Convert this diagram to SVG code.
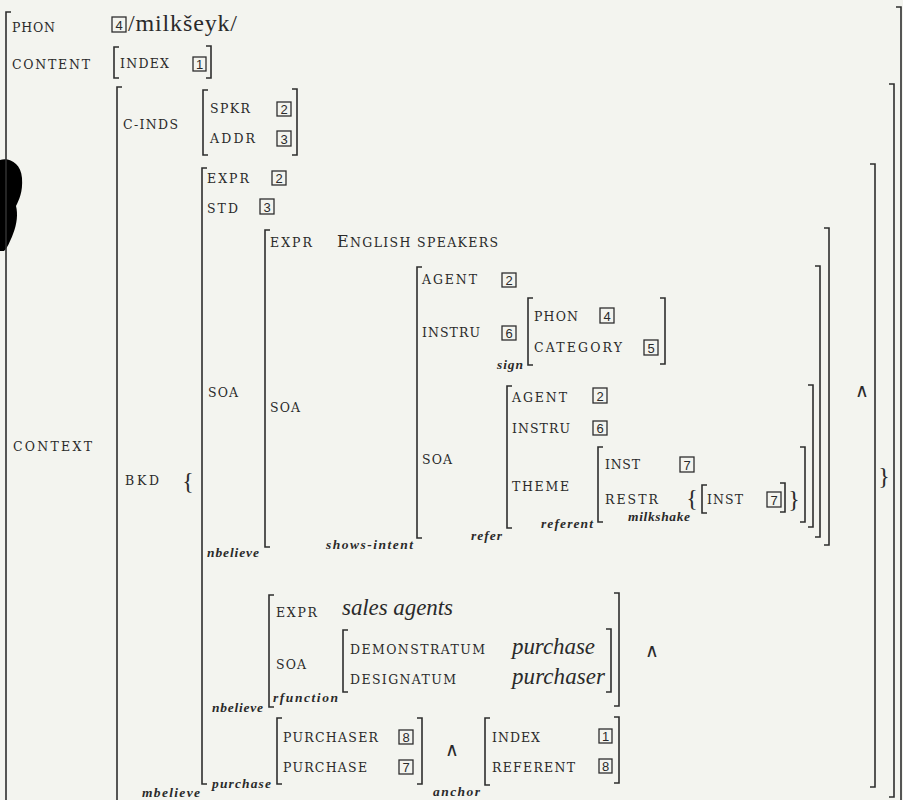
<svg xmlns="http://www.w3.org/2000/svg" width="903" height="800" viewBox="0 0 903 800">
<style>
.bg{fill:#f3f4ef}
.b{fill:none;stroke:#2e2e2e;stroke-width:1.6}
.bx{fill:none;stroke:#2e2e2e;stroke-width:1.3}
text{fill:#2a2a2a}
.l{font-family:"DejaVu Serif","Liberation Serif",serif;font-size:12.5px}
.s{font-family:"Liberation Serif","DejaVu Serif",serif;font-size:13.5px;font-style:italic;font-weight:bold}
.v{font-family:"Liberation Serif","DejaVu Serif",serif;font-size:23px;font-style:italic}
.r{font-family:"Liberation Serif","DejaVu Serif",serif;font-size:24px}
.n{font-family:"Liberation Sans","DejaVu Sans",sans-serif;font-size:13px;text-anchor:middle}
.br{font-family:"Liberation Serif","DejaVu Serif",serif;font-size:24px;text-anchor:middle}
.w{font-family:"DejaVu Sans",sans-serif;font-size:19px;font-weight:200;text-anchor:middle}
</style>
<rect class="bg" x="0" y="0" width="903" height="800"/>
<path d="M0,160 C9,157 21,163 22,178 C23,192 19,200 16,206 C18,214 17,224 13,234 C10,242 7,248 4,251 L0,251 Z" fill="#000"/>

<g id="brackets">
<path class="b" d="M11,12 H6 V805"/>
<path class="b" d="M896,7 H901 V805"/>
<path class="b" d="M119,47 H114 V78 H119"/>
<path class="b" d="M206,46 H211 V78 H206"/>
<path class="b" d="M122,87 H117 V805"/>
<path class="b" d="M889,84 H894 V797 H889"/>
<path class="b" d="M208,90 H203 V155 H208"/>
<path class="b" d="M292,89 H297 V155 H292"/>
<path class="b" d="M207,168 H202 V784 H207"/>
<path class="b" d="M870,164 H875 V787 H870"/>
<path class="b" d="M270,230 H265 V547 H270"/>
<path class="b" d="M824,228 H829 V545 H824"/>
<path class="b" d="M422,267 H417 V538 H422"/>
<path class="b" d="M815,266 H820 V537 H815"/>
<path class="b" d="M533,298 H528 V365 H533"/>
<path class="b" d="M660,298 H665 V364 H660"/>
<path class="b" d="M512,386 H507 V528 H512"/>
<path class="b" d="M808,385 H813 V527 H808"/>
<path class="b" d="M603,447 H598 V522 H603"/>
<path class="b" d="M800,447 H805 V522 H800"/>
<path class="b" d="M707,485 H702 V513 H707"/>
<path class="b" d="M780,483 H785 V512 H780"/>
<path class="b" d="M274,595 H269 V707 H274"/>
<path class="b" d="M614,593 H619 V706 H614"/>
<path class="b" d="M348,630 H343 V692 H348"/>
<path class="b" d="M606,629 H611 V692 H606"/>
<path class="b" d="M282,718 H277 V784 H282"/>
<path class="b" d="M417,718 H422 V784 H417"/>
<path class="b" d="M490,718 H485 V785 H490"/>
<path class="b" d="M614,717 H619 V783 H614"/>
</g>

<g id="labels">
<text class="l" x="12" y="32" textLength="43" lengthAdjust="spacing">PHON</text>
<text class="l" x="12" y="69" textLength="78" lengthAdjust="spacing">CONTENT</text>
<text class="l" x="120" y="68" textLength="49" lengthAdjust="spacing">INDEX</text>
<text class="l" x="123" y="129" textLength="55" lengthAdjust="spacing">C-INDS</text>
<text class="l" x="210" y="113" textLength="40" lengthAdjust="spacing">SPKR</text>
<text class="l" x="210" y="143" textLength="45" lengthAdjust="spacing">ADDR</text>
<text class="l" x="207" y="183" textLength="42" lengthAdjust="spacing">EXPR</text>
<text class="l" x="207" y="213" textLength="31" lengthAdjust="spacing">STD</text>
<text class="l" x="270" y="247" textLength="42" lengthAdjust="spacing">EXPR</text>
<text class="l" x="337" y="247" textLength="161" lengthAdjust="spacing"><tspan font-size="16">E</tspan>NGLISH SPEAKERS</text>
<text class="l" x="422" y="284" textLength="55" lengthAdjust="spacing">AGENT</text>
<text class="l" x="422" y="337" textLength="58" lengthAdjust="spacing">INSTRU</text>
<text class="l" x="534" y="321" textLength="44" lengthAdjust="spacing">PHON</text>
<text class="l" x="534" y="352" textLength="88" lengthAdjust="spacing">CATEGORY</text>
<text class="l" x="208" y="397" textLength="30" lengthAdjust="spacing">SOA</text>
<text class="l" x="270" y="412" textLength="30" lengthAdjust="spacing">SOA</text>
<text class="l" x="422" y="464" textLength="30" lengthAdjust="spacing">SOA</text>
<text class="l" x="512" y="402" textLength="55" lengthAdjust="spacing">AGENT</text>
<text class="l" x="512" y="433" textLength="58" lengthAdjust="spacing">INSTRU</text>
<text class="l" x="512" y="491" textLength="57" lengthAdjust="spacing">THEME</text>
<text class="l" x="605" y="469" textLength="35" lengthAdjust="spacing">INST</text>
<text class="l" x="605" y="504" textLength="53" lengthAdjust="spacing">RESTR</text>
<text class="l" x="707" y="504" textLength="36" lengthAdjust="spacing">INST</text>
<text class="l" x="13" y="451" textLength="79" lengthAdjust="spacing">CONTEXT</text>
<text class="l" x="125" y="485" textLength="34" lengthAdjust="spacing">BKD</text>
<text class="l" x="276" y="617" textLength="41" lengthAdjust="spacing">EXPR</text>
<text class="l" x="276" y="669" textLength="30" lengthAdjust="spacing">SOA</text>
<text class="l" x="350" y="654" textLength="135" lengthAdjust="spacing">DEMONSTRATUM</text>
<text class="l" x="350" y="684" textLength="106" lengthAdjust="spacing">DESIGNATUM</text>
<text class="l" x="283" y="742" textLength="95" lengthAdjust="spacing">PURCHASER</text>
<text class="l" x="283" y="772" textLength="84" lengthAdjust="spacing">PURCHASE</text>
<text class="l" x="492" y="742" textLength="48" lengthAdjust="spacing">INDEX</text>
<text class="l" x="492" y="772" textLength="83" lengthAdjust="spacing">REFERENT</text>
</g>

<g id="types">
<text class="s" x="207" y="557" textLength="52" lengthAdjust="spacing">nbelieve</text>
<text class="s" x="326" y="549" textLength="87" lengthAdjust="spacing">shows-intent</text>
<text class="s" x="497" y="369" textLength="26" lengthAdjust="spacing">sign</text>
<text class="s" x="471" y="540" textLength="31" lengthAdjust="spacing">refer</text>
<text class="s" x="541" y="528" textLength="52" lengthAdjust="spacing">referent</text>
<text class="s" x="628" y="521" textLength="62" lengthAdjust="spacing">milkshake</text>
<text class="s" x="273" y="702" textLength="65" lengthAdjust="spacing">rfunction</text>
<text class="s" x="212" y="712" textLength="51" lengthAdjust="spacing">nbelieve</text>
<text class="s" x="212" y="788" textLength="59" lengthAdjust="spacing">purchase</text>
<text class="s" x="433" y="796" textLength="47" lengthAdjust="spacing">anchor</text>
<text class="s" x="142" y="797" textLength="58" lengthAdjust="spacing">mbelieve</text>
</g>

<g id="values">
<text class="r" x="128" y="31" textLength="109" lengthAdjust="spacing">/milkšeyk/</text>
<text class="v" x="342" y="615" textLength="111" lengthAdjust="spacing">sales agents</text>
<text class="v" x="512" y="654" textLength="83" lengthAdjust="spacing">purchase</text>
<text class="v" x="512" y="684" textLength="93" lengthAdjust="spacing">purchaser</text>
</g>

<g id="tags">
<rect class="bx" x="112" y="17" width="14" height="15"/><text class="n" x="119" y="29.5">4</text>
<rect class="bx" x="193" y="57" width="13" height="14"/><text class="n" x="199.5" y="69">1</text>
<rect class="bx" x="277" y="102" width="14" height="14"/><text class="n" x="284" y="114">2</text>
<rect class="bx" x="277" y="131" width="14" height="15"/><text class="n" x="284" y="143.5">3</text>
<rect class="bx" x="272" y="171" width="14" height="14"/><text class="n" x="279" y="183">2</text>
<rect class="bx" x="260" y="199" width="14" height="15"/><text class="n" x="267" y="211.5">3</text>
<rect class="bx" x="502" y="273" width="14" height="14"/><text class="n" x="509" y="285">2</text>
<rect class="bx" x="502" y="326" width="14" height="14"/><text class="n" x="509" y="338">6</text>
<rect class="bx" x="600" y="308" width="14" height="15"/><text class="n" x="607" y="320.5">4</text>
<rect class="bx" x="644" y="340" width="14" height="15"/><text class="n" x="651" y="352.5">5</text>
<rect class="bx" x="593" y="388" width="14" height="15"/><text class="n" x="600" y="400.5">2</text>
<rect class="bx" x="593" y="421" width="14" height="14"/><text class="n" x="600" y="433">6</text>
<rect class="bx" x="680" y="457" width="14" height="15"/><text class="n" x="687" y="469.5">7</text>
<rect class="bx" x="767" y="492" width="14" height="15"/><text class="n" x="774" y="504.5">7</text>
<rect class="bx" x="399" y="730" width="14" height="14"/><text class="n" x="406" y="742">8</text>
<rect class="bx" x="399" y="760" width="14" height="14"/><text class="n" x="406" y="772">7</text>
<rect class="bx" x="599" y="729" width="13" height="14"/><text class="n" x="605.5" y="741">1</text>
<rect class="bx" x="599" y="759" width="13" height="14"/><text class="n" x="605.5" y="771">8</text>
</g>

<g id="operators">
<text class="br" x="188" y="489">{</text>
<text class="br" x="884" y="484">}</text>
<text class="br" x="692" y="506" font-size="22">{</text>
<text class="br" x="794" y="507">}</text>
<text class="w" x="862" y="397">∧</text>
<text class="w" x="652" y="657">∧</text>
<text class="w" x="452" y="756">∧</text>
</g>
</svg>
